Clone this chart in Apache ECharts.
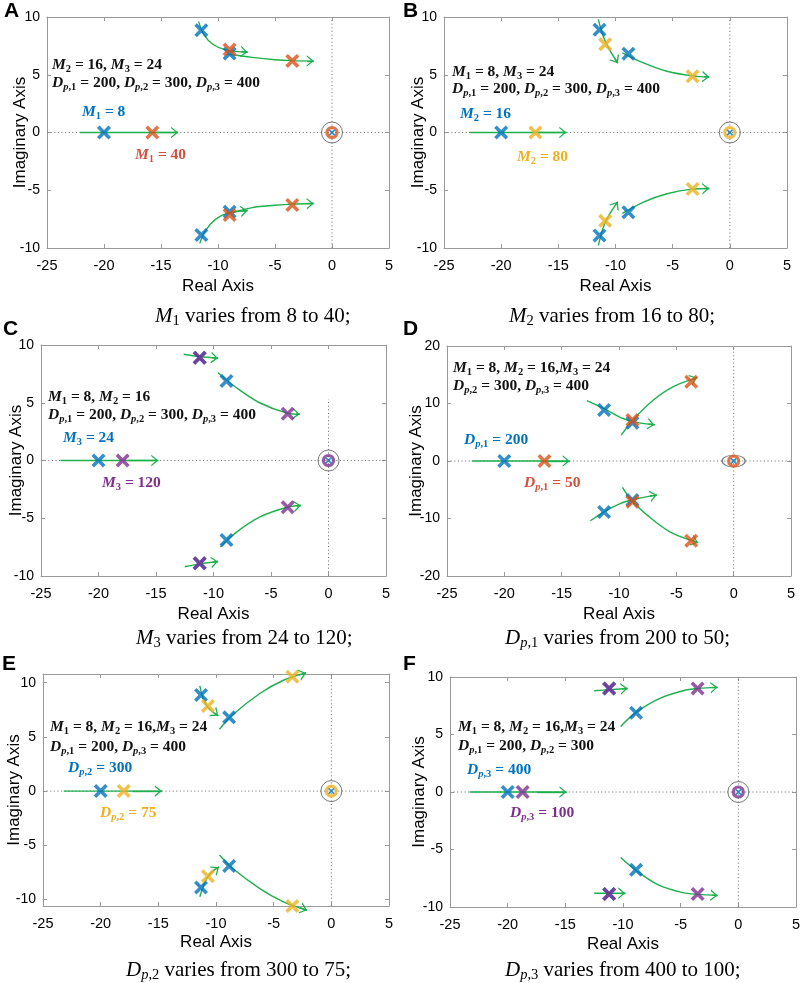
<!DOCTYPE html>
<html><head><meta charset="utf-8">
<script src="https://cdn.jsdelivr.net/npm/echarts@6/dist/echarts.min.js"></script>
<style>html,body{margin:0;padding:0;background:#fff}#c{width:809px;height:983px}</style>
</head><body><div id="c"></div>
<script>
// ---------------- DATA ----------------
const xTicks = [-25, -20, -15, -10, -5, 0, 5];
const yTicks10 = [-10, -5, 0, 5, 10];
const yTicks20 = [-20, -10, 0, 10, 20];
const origin = [[0, 0]];
const zeroH = [[-25, 0], [5, 0]];

// Panel A : M1 varies from 8 to 40
const crossBlueA = [[-20, 0], [-11.46, 8.85], [-8.98, 6.83], [-11.46, -8.88], [-8.98, -6.86]];
const crossSecondA = [[-15.76, 0], [-8.98, 7.18], [-3.48, 6.2], [-8.98, -7.15], [-3.48, -6.28]];
const locusA = [
  [[-22.1, 0], [-13.5, 0]],
  [[-11.7, 9.6], [-11.2, 8.4], [-10.4, 7.6], [-9.3, 7.15], [-7.4, 6.95]],
  [[-9.2, 6.8], [-7, 6.5], [-5, 6.3], [-3.5, 6.22], [-1.6, 6.18]],
  [[-11.6, -9.6], [-11.1, -8.5], [-10.2, -7.5], [-9.2, -7.0], [-7.4, -6.75]],
  [[-9.0, -7.0], [-7, -6.5], [-5, -6.3], [-3.5, -6.2], [-1.6, -6.15]]
];
const vlineA = [[0, -10], [0, 10]];

// Panel B : M2 varies from 16 to 80
const crossBlueB = [[-20, 0], [-11.4, 8.9], [-8.87, 6.82], [-11.4, -8.92], [-8.87, -6.9]];
const crossSecondB = [[-17.0, 0], [-10.9, 7.63], [-3.26, 4.86], [-10.9, -7.65], [-3.26, -4.89]];
const locusB = [
  [[-22.8, 0], [-14.3, 0]],
  [[-11.5, 9.8], [-11.1, 8.4], [-10.6, 7.3], [-9.8, 6.0]],
  [[-9.4, 6.9], [-7.5, 6.0], [-5.5, 5.3], [-3.3, 4.9], [-1.8, 4.8]],
  [[-11.5, -9.8], [-11.1, -8.3], [-10.6, -7.2], [-9.8, -6.0]],
  [[-9.4, -7.0], [-7.5, -6.0], [-5.5, -5.3], [-3.3, -4.9], [-1.8, -4.85]]
];
const vlineB = [[0, -10], [0, 10]];

// Panel C : M3 varies from 24 to 120
const crossBlueC = [[-20, 0], [-11.2, 8.9], [-8.87, 6.88], [-11.2, -8.9], [-8.87, -6.88]];
const crossSecondC = [[-17.9, 0], [-11.2, 8.9], [-3.55, 4.05], [-11.2, -8.9], [-3.55, -4.05]];
const locusC = [
  [[-23.3, 0], [-14.8, 0]],
  [[-12.6, 9.2], [-11.2, 9.0], [-9.6, 8.85]],
  [[-9.6, 7.6], [-8.0, 6.3], [-6.0, 5.0], [-3.6, 4.1], [-2.5, 4.0]],
  [[-9.4, -7.5], [-8.0, -6.2], [-6.0, -4.9], [-3.6, -4.05], [-2.4, -3.9]],
  [[-12.5, -9.2], [-11.2, -8.95], [-9.6, -8.75]]
];
const vlineC = [[0, -10], [0, 5.3]];

// Panel D : Dp,1 varies from 200 to 50
const crossBlueD = [[-20, 0], [-11.3, 8.87], [-8.83, 6.67], [-11.3, -8.87], [-8.83, -6.78]];
const crossSecondD = [[-16.5, 0], [-8.83, 7.13], [-3.7, 13.8], [-8.83, -7.07], [-3.7, -13.86]];
const locusD = [
  [[-22.8, 0], [-14.3, 0]],
  [[-12.8, 10.5], [-11.3, 9.1], [-9.9, 7.6], [-8.7, 6.8], [-6.9, 6.3]],
  [[-9.8, 4.5], [-8.8, 7.1], [-7, 10.6], [-5.3, 12.9], [-3.2, 14.5]],
  [[-12.5, -10.4], [-11.2, -8.7], [-9.9, -7.4], [-8.7, -6.7], [-6.7, -5.9]],
  [[-9.7, -4.6], [-8.8, -7.1], [-7, -10.3], [-5.3, -12.6], [-3.1, -14.2]]
];
const vlineD = [[0, -20], [0, 20]];

// Panel E : Dp,2 varies from 300 to 75
const crossBlueE = [[-20, 0], [-11.3, 8.86], [-8.86, 6.8], [-11.3, -8.89], [-8.86, -6.92]];
const crossSecondE = [[-18.0, 0], [-10.7, 7.85], [-3.38, 10.55], [-10.7, -7.85], [-3.38, -10.6]];
const locusE = [
  [[-23.2, 0], [-14.7, 0]],
  [[-11.4, 9.7], [-11.1, 8.5], [-10.6, 7.6], [-9.8, 6.95]],
  [[-9.7, 5.7], [-8.6, 7.0], [-6.2, 9.0], [-4.2, 10.2], [-2.2, 10.9]],
  [[-11.4, -9.75], [-11.0, -8.5], [-10.5, -7.6], [-9.75, -7.0]],
  [[-9.7, -5.9], [-8.6, -7.1], [-6.2, -9.0], [-4.2, -10.2], [-2.1, -11.0]]
];
const vlineE = [[0, -10.6], [0, 10.8]];

// Panel F : Dp,3 varies from 400 to 100
const crossBlueF = [[-20, 0], [-11.2, 9.0], [-8.87, 6.89], [-11.2, -8.87], [-8.87, -6.77]];
const crossSecondF = [[-18.7, 0], [-11.2, 9.0], [-3.53, 9.0], [-11.2, -8.87], [-3.53, -8.87]];
const locusF = [
  [[-23.3, 0], [-14.9, 0]],
  [[-12.5, 8.8], [-11.2, 8.9], [-9.6, 9.0]],
  [[-10.2, 5.7], [-8.9, 6.9], [-6.9, 8.1], [-4.8, 8.8], [-3.5, 9.0], [-1.8, 9.1]],
  [[-10.2, -5.7], [-8.9, -6.8], [-6.9, -8.1], [-4.8, -8.75], [-3.5, -8.9], [-1.8, -9.0]],
  [[-12.5, -8.8], [-11.2, -8.8], [-9.8, -8.8]]
];
const vlineF = [[0, -10], [0, 10]];

// Texts
const panelLetters = ['A', 'B', 'C', 'D', 'E', 'F'];
const fixedLine1 = [
  '{I|M}{S|2}{B| = 16, }{I|M}{S|3}{B| = 24}',
  '{I|M}{S|1}{B| = 8, }{I|M}{S|3}{B| = 24}',
  '{I|M}{S|1}{B| = 8, }{I|M}{S|2}{B| = 16}',
  '{I|M}{S|1}{B| = 8, }{I|M}{S|2}{B| = 16,}{I|M}{S|3}{B| = 24}',
  '{I|M}{S|1}{B| = 8, }{I|M}{S|2}{B| = 16,}{I|M}{S|3}{B| = 24}',
  '{I|M}{S|1}{B| = 8, }{I|M}{S|2}{B| = 16,}{I|M}{S|3}{B| = 24}'
];
const fixedLine2 = [
  '{I|D}{SI|p}{S|,1}{B| = 200, }{I|D}{SI|p}{S|,2}{B| = 300, }{I|D}{SI|p}{S|,3}{B| = 400}',
  '{I|D}{SI|p}{S|,1}{B| = 200, }{I|D}{SI|p}{S|,2}{B| = 300, }{I|D}{SI|p}{S|,3}{B| = 400}',
  '{I|D}{SI|p}{S|,1}{B| = 200, }{I|D}{SI|p}{S|,2}{B| = 300, }{I|D}{SI|p}{S|,3}{B| = 400}',
  '{I|D}{SI|p}{S|,2}{B| = 300, }{I|D}{SI|p}{S|,3}{B| = 400}',
  '{I|D}{SI|p}{S|,1}{B| = 200, }{I|D}{SI|p}{S|,3}{B| = 400}',
  '{I|D}{SI|p}{S|,1}{B| = 200, }{I|D}{SI|p}{S|,2}{B| = 300}'
];
const startLabels = [
  '{I|M}{S|1}{B| = 8}', '{I|M}{S|2}{B| = 16}', '{I|M}{S|3}{B| = 24}',
  '{I|D}{SI|p}{S|,1}{B| = 200}', '{I|D}{SI|p}{S|,2}{B| = 300}', '{I|D}{SI|p}{S|,3}{B| = 400}'
];
const endLabels = [
  '{I|M}{S|1}{B| = 40}', '{I|M}{S|2}{B| = 80}', '{I|M}{S|3}{B| = 120}',
  '{I|D}{SI|p}{S|,1}{B| = 50}', '{I|D}{SI|p}{S|,2}{B| = 75}', '{I|D}{SI|p}{S|,3}{B| = 100}'
];
const captions = [
  '{CI|M}{CS|1}{CN| varies from 8 to 40;}',
  '{CI|M}{CS|2}{CN| varies from 16 to 80;}',
  '{CI|M}{CS|3}{CN| varies from 24 to 120;}',
  '{CI|D}{CSI|p}{CS|,1}{CN| varies from 200 to 50;}',
  '{CI|D}{CSI|p}{CS|,2}{CN| varies from 300 to 75;}',
  '{CI|D}{CSI|p}{CS|,3}{CN| varies from 400 to 100;}'
];

// ---------------- STYLE / LAYOUT ----------------
const BLUE = '#0072BD', ORANGE = '#D95319', YELLOW = '#EDB120', PURPLE = '#7E2F8E', GREEN = '#1DB04E';
const FRAME = '#9a9a9a';
const SERIF = '"Liberation Serif","Times New Roman",serif';
const SANS = '"Liberation Sans",Arial,Helvetica,sans-serif';
const XSYM = 'path://M1.8,0 L5,3.2 L8.2,0 L10,1.8 L6.8,5 L10,8.2 L8.2,10 L5,6.8 L1.8,10 L0,8.2 L3.2,5 L0,1.8 Z';
const ARROW = 'path://M0,0 L0,0 Z M12,0 L12,0 Z M1,12 L6,6 L11,12 L9.6,12 L6,7.7 L2.4,12 Z';

const panels = [
  {blue: crossBlueA, second: crossSecondA, color: ORANGE, txt: '#D4503E', locus: locusA, vline: vlineA, ring: [21, 21],
   left: 47, top: 17, width: 342, height: 231, yMin: -10, yMax: 10, yTicks: yTicks10, xGap: 30, yGap: 18,
   l1: [52, 65], l2: [52, 83], sp: [82, 112], ep: [135, 155], cap: [155, 316], let: [4, 11]},
  {blue: crossBlueB, second: crossSecondB, color: YELLOW, txt: YELLOW, locus: locusB, vline: vlineB, ring: [21, 21],
   left: 444, top: 17, width: 343, height: 231, yMin: -10, yMax: 10, yTicks: yTicks10, xGap: 30, yGap: 17,
   l1: [452, 72], l2: [452, 89], sp: [460, 114], ep: [517, 157], cap: [509, 316], let: [403, 11]},
  {blue: crossBlueC, second: crossSecondC, color: PURPLE, txt: PURPLE, locus: locusC, vline: vlineC, ring: [21, 21],
   left: 41, top: 345, width: 345, height: 231, yMin: -10, yMax: 10, yTicks: yTicks10, xGap: 30, yGap: 16,
   l1: [48, 397], l2: [48, 415], sp: [63, 438], ep: [102, 483], cap: [136, 638], let: [3, 329]},
  {blue: crossBlueD, second: crossSecondD, color: ORANGE, txt: '#D4503E', locus: locusD, vline: vlineD, ring: [23, 12],
   left: 447, top: 346, width: 344, height: 230, yMin: -20, yMax: 20, yTicks: yTicks20, xGap: 30, yGap: 22,
   l1: [453, 368], l2: [453, 386], sp: [464, 440], ep: [524, 483], cap: [505, 638], let: [403, 329]},
  {blue: crossBlueE, second: crossSecondE, color: YELLOW, txt: YELLOW, locus: locusE, vline: vlineE, ring: [21, 21],
   left: 43, top: 674, width: 346, height: 232, yMin: -10.6, yMax: 10.8, yTicks: yTicks10, xGap: 28, yGap: 20,
   l1: [50, 727], l2: [50, 747], sp: [68, 768], ep: [100, 813], cap: [126, 970], let: [2, 664]},
  {blue: crossBlueF, second: crossSecondF, color: PURPLE, txt: PURPLE, locus: locusF, vline: vlineF, ring: [21, 21],
   left: 450, top: 677, width: 346, height: 230, yMin: -10, yMax: 10, yTicks: yTicks10, xGap: 29, yGap: 22,
   l1: [458, 727], l2: [458, 746], sp: [467, 770], ep: [510, 813], cap: [505, 970], let: [403, 664]}
];

const rich = {
  I: {fontFamily: SERIF, fontStyle: 'italic', fontWeight: 'bold', fontSize: 15.5, lineHeight: 19},
  B: {fontFamily: SERIF, fontWeight: 'bold', fontSize: 15.5, lineHeight: 19},
  S: {fontFamily: SERIF, fontWeight: 'bold', fontSize: 10.5, lineHeight: 11, verticalAlign: 'bottom'},
  SI: {fontFamily: SERIF, fontStyle: 'italic', fontWeight: 'bold', fontSize: 10.5, lineHeight: 11, verticalAlign: 'bottom'},
  CI: {fontFamily: SERIF, fontStyle: 'italic', fontSize: 21, lineHeight: 25},
  CN: {fontFamily: SERIF, fontSize: 21, lineHeight: 25},
  CS: {fontFamily: SERIF, fontSize: 14.5, lineHeight: 15, verticalAlign: 'bottom'},
  CSI: {fontFamily: SERIF, fontStyle: 'italic', fontSize: 14.5, lineHeight: 15, verticalAlign: 'bottom'}
};

const grid = [], xAxis = [], yAxis = [], series = [], graphic = [];
const axLine = {show: true, onZero: false, lineStyle: {color: FRAME, width: 1}};
const axTick = {show: true, inside: true, length: 4, lineStyle: {color: FRAME, width: 1}};
const nameStyle = {fontSize: 17, color: '#000', fontFamily: SANS};
const labelStyle = {color: '#000', fontSize: 14.5, fontFamily: SANS};

function textEl(pos, text, fill) {
  return {type: 'text', x: pos[0], y: pos[1], silent: true, z: 100,
    style: {text: text, rich: rich, fill: fill, align: 'left', verticalAlign: 'middle',
            textAlign: 'left', textVerticalAlign: 'middle', fontFamily: SERIF}};
}

panels.forEach((p, i) => {
  grid.push({left: p.left, top: p.top, width: p.width, height: p.height, containLabel: false});
  xAxis.push({gridIndex: i, type: 'value', min: xTicks[0], max: xTicks[xTicks.length - 1], interval: 5, position: 'bottom',
    name: 'Real Axis', nameLocation: 'middle', nameGap: p.xGap, nameMoveOverlap: false, nameTextStyle: nameStyle,
    axisLine: axLine, axisTick: axTick, splitLine: {show: false},
    axisLabel: Object.assign({margin: 10}, labelStyle)});
  xAxis.push({gridIndex: i, type: 'value', min: xTicks[0], max: xTicks[xTicks.length - 1], interval: 5, position: 'top',
    axisLine: axLine, axisTick: axTick, splitLine: {show: false}, axisLabel: {show: false}});
  const yCommon = {gridIndex: i, type: 'value', min: p.yMin, max: p.yMax};
  const tickCfg = Object.assign({}, axTick, {customValues: p.yTicks});
  yAxis.push(Object.assign({}, yCommon, {position: 'left', name: 'Imaginary Axis', nameLocation: 'middle', nameGap: p.yGap,
    nameMoveOverlap: false, nameTextStyle: nameStyle,
    axisLine: axLine, axisTick: tickCfg, splitLine: {show: false},
    axisLabel: Object.assign({margin: 7, customValues: p.yTicks}, labelStyle, {fontSize: 14})}));
  yAxis.push(Object.assign({}, yCommon, {position: 'right', axisLine: axLine, axisTick: tickCfg,
    splitLine: {show: false}, axisLabel: {show: false, customValues: p.yTicks}}));

  const ax = {xAxisIndex: 2 * i, yAxisIndex: 2 * i};
  const dotted = {color: '#808080', width: 1, type: [1.2, 2.4]};
  series.push(Object.assign({type: 'line', data: zeroH, symbol: 'none', silent: true, lineStyle: dotted, z: 1}, ax));
  series.push(Object.assign({type: 'line', data: p.vline, symbol: 'none', silent: true, lineStyle: dotted, z: 1}, ax));
  p.locus.forEach(c => {
    series.push(Object.assign({type: 'line', data: c, smooth: c.length > 2 ? 0.35 : false, symbol: 'none',
      showSymbol: false, clip: false, silent: true, lineStyle: {color: GREEN, width: 1.4}, z: 3}, ax));
  });
  series.push(Object.assign({type: 'lines', coordinateSystem: 'cartesian2d', clip: false, silent: true, z: 4,
    symbol: ['none', ARROW], symbolSize: [0, 14], lineStyle: {color: GREEN, width: 1.4, opacity: 1, curveness: 0},
    data: p.locus.map(c => {
      const a = c[c.length - 2], b = c[c.length - 1];
      return {coords: [[b[0] + (a[0] - b[0]) * 0.3, b[1] + (a[1] - b[1]) * 0.3], b]};
    })}, ax));
  series.push(Object.assign({type: 'scatter', data: origin, symbol: 'circle', symbolSize: p.ring, silent: true, z: 5,
    itemStyle: {color: 'rgba(0,0,0,0)', borderColor: '#555', borderWidth: 1}}, ax));
  series.push(Object.assign({type: 'scatter', data: origin, symbol: 'circle', symbolSize: 10, silent: true, z: 6,
    itemStyle: {color: 'rgba(0,0,0,0)', borderColor: p.color, borderWidth: 3.2}}, ax));
  series.push(Object.assign({type: 'scatter', data: p.blue, symbol: XSYM, symbolSize: 14, silent: true, z: 7,
    itemStyle: {color: BLUE}}, ax));
  series.push(Object.assign({type: 'scatter', data: p.second, symbol: XSYM, symbolSize: 14, silent: true, z: 8,
    itemStyle: {color: p.color}}, ax));
  series.push(Object.assign({type: 'scatter', data: origin, symbol: XSYM, symbolSize: 6.5, silent: true, z: 9,
    itemStyle: {color: BLUE}}, ax));

  graphic.push({type: 'text', x: p.let[0], y: p.let[1], silent: true,
    style: {text: panelLetters[i], fill: '#000', fontFamily: SANS, fontWeight: 'bold', fontSize: 21,
            align: 'left', verticalAlign: 'middle', textAlign: 'left', textVerticalAlign: 'middle'}});
  graphic.push(textEl(p.l1, fixedLine1[i], '#111'));
  graphic.push(textEl(p.l2, fixedLine2[i], '#111'));
  graphic.push(textEl(p.sp, startLabels[i], BLUE));
  graphic.push(textEl(p.ep, endLabels[i], p.txt));
  graphic.push(textEl(p.cap, captions[i], '#000'));
});

const chart = echarts.init(document.getElementById('c'), null, {renderer: 'canvas'});
chart.setOption({animation: false, backgroundColor: '#fff', grid, xAxis, yAxis, series, graphic});
</script></body></html>
